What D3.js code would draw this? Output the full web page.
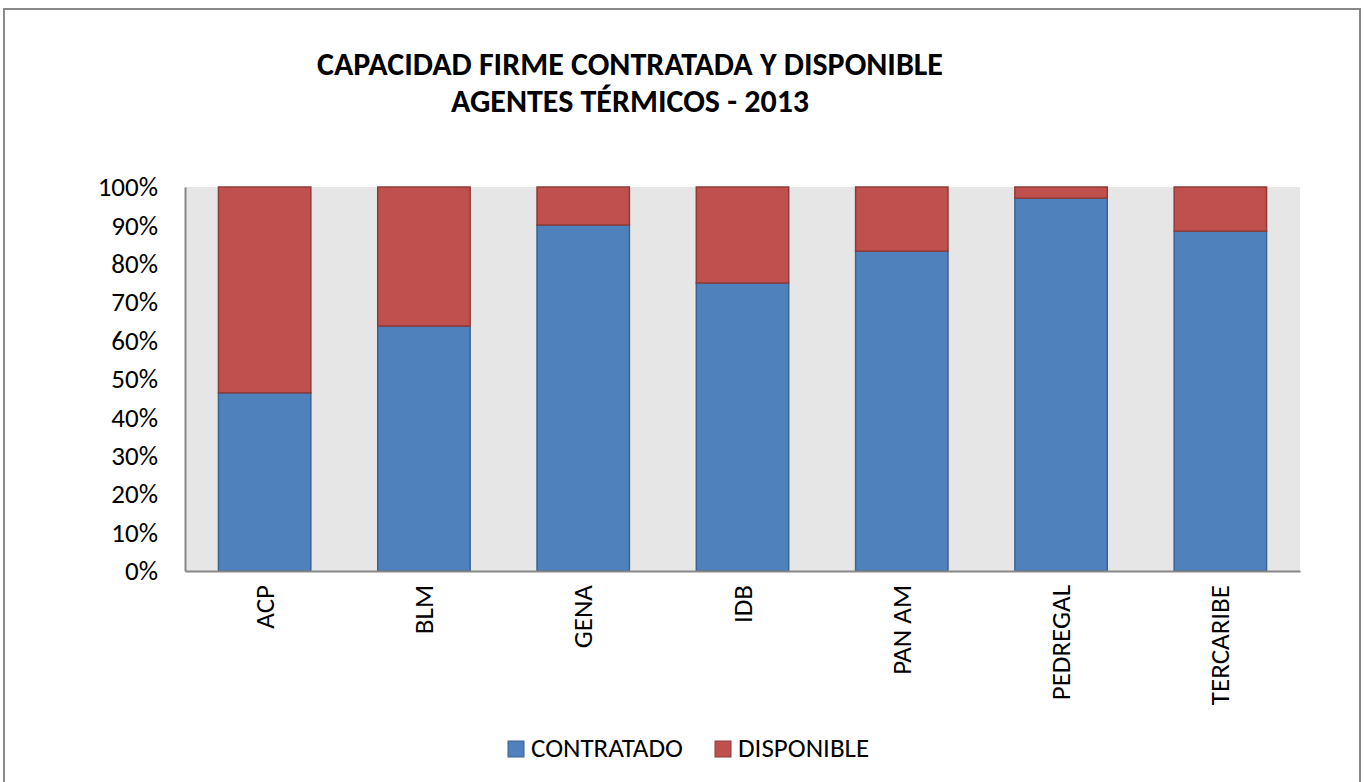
<!DOCTYPE html>
<html>
<head>
<meta charset="utf-8">
<script src="https://cdn.jsdelivr.net/npm/d3@7"></script>
<style>
  body { margin: 0; background: #fff; }
  svg { display: block; font-family: Carlito, "Open Sans", "Liberation Sans", sans-serif; }
</style>
</head>
<body>
<svg id="chart" width="1364" height="782"></svg>
<script>
// Agents and their share of firm capacity (%)
const agentes = ['ACP', 'BLM', 'GENA', 'IDB', 'PAN AM', 'PEDREGAL', 'TERCARIBE'];
const contratado = [46.4, 63.8, 90.1, 75.0, 83.3, 97.1, 88.5];
const disponible = [53.6, 36.2, 9.9, 25.0, 16.7, 2.9, 11.5];
const yTicks = [0, 10, 20, 30, 40, 50, 60, 70, 80, 90, 100];
const titleLines = ['CAPACIDAD FIRME CONTRATADA Y DISPONIBLE', 'AGENTES TÉRMICOS - 2013'];

const series = [
  { name: 'CONTRATADO', values: contratado, fill: '#4F81BD', stroke: '#3A6393' },
  { name: 'DISPONIBLE', values: disponible, fill: '#C0504D', stroke: '#8E3B39' },
];

const labelFont = 'Carlito, "Open Sans", "Liberation Sans", sans-serif';
const labelSize = 27;

const svg = d3.select('#chart');

// Outer chart border
svg.append('rect')
  .attr('x', 4).attr('y', 9)
  .attr('width', 1356).attr('height', 790)
  .attr('fill', '#fff')
  .attr('stroke', '#898989')
  .attr('stroke-width', 2);

// Title
const title = svg.append('text')
  .attr('text-anchor', 'middle')
  .attr('font-weight', 'bold')
  .attr('font-size', 32)
  .attr('fill', '#000');
title.selectAll('tspan')
  .data(titleLines)
  .enter()
  .append('tspan')
  .attr('x', 630)
  .attr('y', (d, i) => 75 + i * 37)
  .text((d) => d);

const plot = { left: 185, right: 1300, top: 187, bottom: 571 };

const x = d3.scaleBand()
  .domain(agentes)
  .range([plot.left, plot.right])
  .paddingInner(0.42)
  .paddingOuter(0.21);

const y = d3.scaleLinear()
  .domain([0, 100])
  .range([plot.bottom, plot.top]);

// Plot background
svg.append('rect')
  .attr('x', plot.left).attr('y', plot.top)
  .attr('width', plot.right - plot.left)
  .attr('height', plot.bottom - plot.top)
  .attr('fill', '#E6E6E6');

// Stack the data
const rows = agentes.map((a, i) => {
  const r = { agente: a };
  series.forEach((s) => (r[s.name] = s.values[i]));
  return r;
});
const stacked = d3.stack().keys(series.map((s) => s.name))(rows);

const groups = svg.append('g')
  .selectAll('g')
  .data(stacked)
  .enter()
  .append('g')
  .attr('fill', (d, i) => series[i].fill)
  .attr('stroke', (d, i) => series[i].stroke)
  .attr('stroke-width', 1.5);

groups.selectAll('rect')
  .data((d) => d)
  .enter()
  .append('rect')
  .attr('x', (d) => x(d.data.agente))
  .attr('y', (d) => y(d[1]))
  .attr('width', x.bandwidth())
  .attr('height', (d) => y(d[0]) - y(d[1]));

// Y axis
const yAxis = svg.append('g')
  .attr('transform', `translate(${plot.left},0)`)
  .call(d3.axisLeft(y).tickValues(yTicks).tickSize(0).tickPadding(27).tickFormat((d) => d + '%'));
yAxis.select('.domain').attr('stroke', '#878787').attr('stroke-width', 2);
yAxis.selectAll('text')
  .attr('font-size', labelSize)
  .attr('fill', '#000')
  .attr('font-family', labelFont);

// X axis
const xAxis = svg.append('g')
  .attr('transform', `translate(0,${plot.bottom})`)
  .call(d3.axisBottom(x).tickSize(0).tickPadding(0));
xAxis.select('.domain').attr('stroke', '#878787').attr('stroke-width', 2);
xAxis.selectAll('text')
  .attr('font-size', labelSize)
  .attr('fill', '#000')
  .attr('font-family', labelFont)
  .attr('text-anchor', 'end')
  .attr('dy', null)
  .attr('y', 0)
  .attr('transform', 'translate(9,14) rotate(-90)');

// Legend
const legendX = [508, 715];
const legend = svg.append('g')
  .selectAll('g')
  .data(series)
  .enter()
  .append('g')
  .attr('transform', (d, i) => `translate(${legendX[i]},741)`);
legend.append('rect')
  .attr('width', 16).attr('height', 16)
  .attr('fill', (d) => d.fill)
  .attr('stroke', (d) => d.stroke)
  .attr('stroke-width', 1);
legend.append('text')
  .attr('x', 23)
  .attr('y', 16)
  .attr('font-size', labelSize)
  .attr('fill', '#000')
  .text((d) => d.name);
</script>
</body>
</html>
